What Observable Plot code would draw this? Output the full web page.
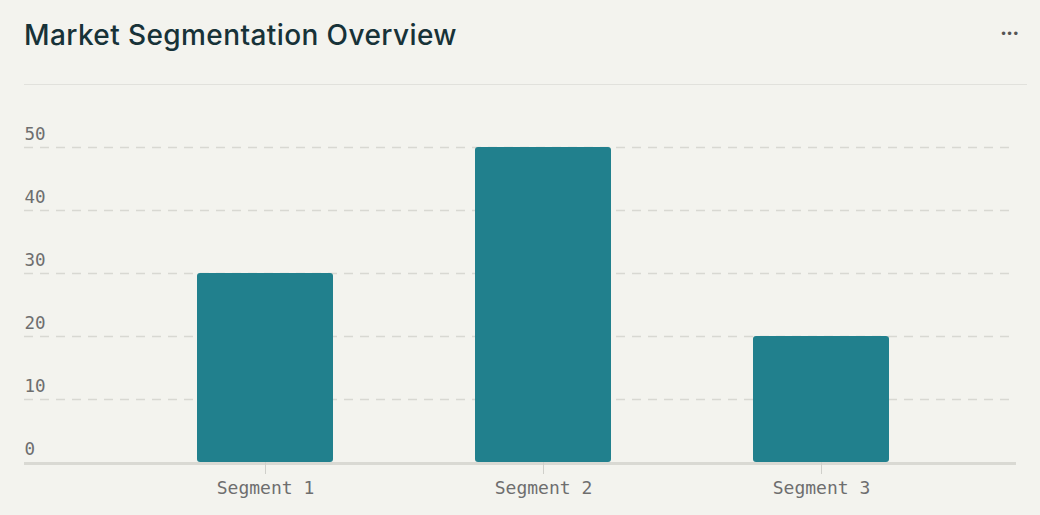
<!DOCTYPE html>
<html>
<head>
<meta charset="utf-8">
<script src="https://cdn.jsdelivr.net/npm/d3@7"></script>
<script src="https://cdn.jsdelivr.net/npm/@observablehq/plot@0.6"></script>
<style>
  html, body { margin: 0; padding: 0; background: #f3f3ee; }
  body { width: 1040px; height: 515px; position: relative; overflow: hidden; }
  #title { position: absolute; left: 24px; top: 18px; font-family: Inter, "Noto Sans", sans-serif; font-size: 28px; font-weight: 500; color: #173238; letter-spacing: 0.4px; }
  #menu { position: absolute; left: 1000px; top: 27px; font-family: "DejaVu Sans", sans-serif; font-size: 12px; color: #555; letter-spacing: -1px; }
  #divider { position: absolute; left: 24px; top: 84px; width: 1003px; height: 1px; background: #e1e1dc; }
  #chart { position: absolute; left: 0; top: 85px; }
</style>
</head>
<body>
<div id="title">Market Segmentation Overview</div>
<div id="menu">•••</div>
<div id="divider"></div>
<div id="chart"></div>
<script>
const segments = ["Segment 1", "Segment 2", "Segment 3"];
const values = [30, 50, 20];
const yTicks = [0, 10, 20, 30, 40, 50];

const data = segments.map((s, i) => ({segment: s, value: values[i]}));

const chart = Plot.plot({
  width: 1040,
  height: 430,
  marginLeft: 24,
  marginRight: 24,
  marginTop: 62,
  marginBottom: 53,
  style: {background: "transparent", fontFamily: "'DejaVu Sans Mono', monospace"},
  x: {domain: segments, range: [126, 960], paddingInner: 0.5108, paddingOuter: 0.2554, label: null},
  y: {domain: [0, 50], label: null, axis: null},
  marks: [
    Plot.ruleY(yTicks.filter(d => d > 0), {stroke: "#d8d8d2", strokeWidth: 1.3, strokeDasharray: "9,7"}),
    Plot.text(yTicks, {y: d => d, text: d => String(d), frameAnchor: "left", textAnchor: "start", dy: -13, fill: "#6e6e6e", fontSize: 17.5}),
    Plot.barY(data, {x: "segment", y: "value", fill: "#21808d", rx: 3}),
    Plot.ruleY([0], {stroke: "#d9d9d3", strokeWidth: 3, dy: 1}),
    Plot.axisX({tickSize: 12, tickPadding: 7, fontSize: 18, stroke: "#cfcfca", fill: "#6e6e6e", label: null})
  ]
});
document.getElementById("chart").appendChild(chart);
</script>
</body>
</html>
